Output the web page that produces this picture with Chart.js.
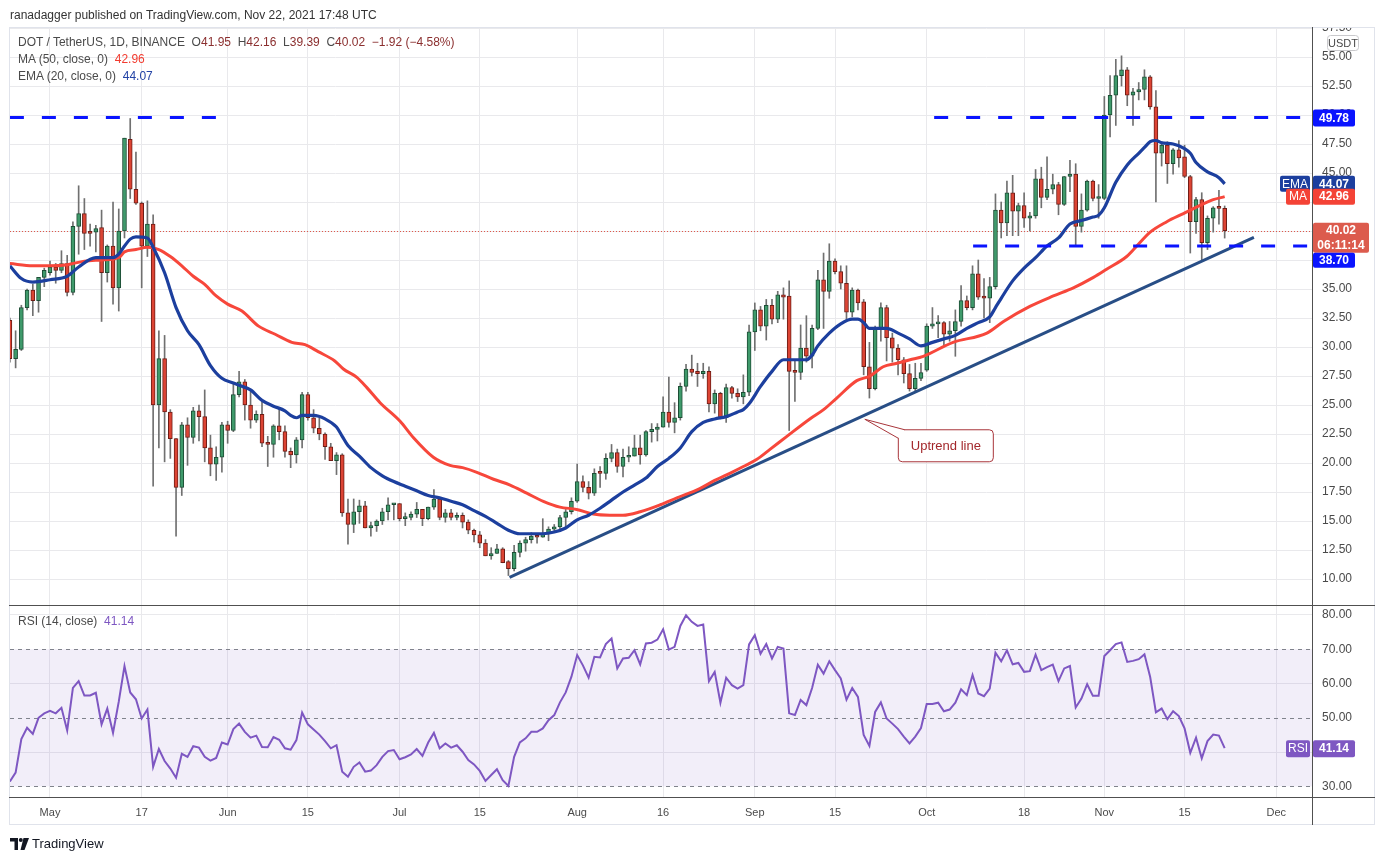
<!DOCTYPE html>
<html>
<head>
<meta charset="utf-8">
<script src="https://cdn.jsdelivr.net/npm/chart.js@4.4.0/dist/chart.umd.min.js"></script>
<style>
  body { margin: 0; background: #fff; font-family: 'Liberation Sans', Arial, sans-serif; }
  #wrap { position: relative; width: 1384px; height: 860px; overflow: hidden; background: #fff; }
  canvas { position: absolute; left: 0; }
  #price { top: 0; }
  #rsi { top: 605px; }
  .t { position: absolute; white-space: nowrap; font-size: 12px; color: #4a4a4a; line-height: 14px; }
  .ln { position: absolute; background: #505050; }
  .dn { color: #8b2f2f; }
</style>
</head>
<body>
<div id="wrap">
  <canvas id="price" width="1384" height="605"></canvas>
  <canvas id="rsi" width="1384" height="255"></canvas>

  <div style="position:absolute;left:1313px;top:0;width:71px;height:27px;background:#fff"></div>
  <div style="position:absolute;left:9px;top:27px;width:1366px;height:798px;border:1px solid #e0e3eb;box-sizing:border-box"></div>
  <div class="ln" style="left:1312px;top:27px;width:1px;height:798px"></div>
  <div class="ln" style="left:9px;top:605px;width:1366px;height:1px"></div>
  <div class="ln" style="left:9px;top:797px;width:1366px;height:1px"></div>

  <div class="t" style="left:10px;top:8px;color:#333">ranadagger published on TradingView.com, Nov 22, 2021 17:48 UTC</div>
  <div class="t" style="left:18px;top:35px">DOT / TetherUS, 1D, BINANCE&nbsp;&nbsp;O<span class="dn">41.95</span>&nbsp;&nbsp;H<span class="dn">42.16</span>&nbsp;&nbsp;L<span class="dn">39.39</span>&nbsp;&nbsp;C<span class="dn">40.02</span>&nbsp;&nbsp;<span class="dn">&minus;1.92 (&minus;4.58%)</span></div>
  <div class="t" style="left:18px;top:52px">MA (50, close, 0)&nbsp;&nbsp;<span style="color:#f23b2f">42.96</span></div>
  <div class="t" style="left:18px;top:69px">EMA (20, close, 0)&nbsp;&nbsp;<span style="color:#2343a6">44.07</span></div>
  <div class="t" style="left:18px;top:614px">RSI (14, close)&nbsp;&nbsp;<span style="color:#7e57c2">41.14</span></div>

  <div style="position:absolute;left:10px;top:836px;display:flex;align-items:center;gap:3px">
    <svg width="19" height="12" viewBox="0 0 19 12"><path d="M0 0h8v12H4.5V3.5H0z" fill="#131722"/><circle cx="10.8" cy="2" r="2" fill="#131722"/><path d="M13.5 0h5.5l-4.5 12h-4z" fill="#131722"/></svg>
    <span style="font-size:13px;color:#131722">TradingView</span>
  </div>
</div>

<script>
// day 0 = May 1, 2021; first candle is Apr 24 (day -7), last is Nov 22 (day 205)
const firstDay = -7;

const openPx = [
  32.3, 29.0, 29.8, 33.4, 34.9, 34.0, 36.0, 36.4, 36.9, 36.6,
  37.2, 34.7, 40.4, 41.5, 39.9, 39.9, 40.3, 36.4, 38.7, 35.1,
  40.0, 47.9, 43.6, 42.4, 38.7, 40.6, 25.0, 29.0, 24.4, 22.1,
  17.9, 23.3, 22.2, 24.5, 24.0, 21.3, 19.9, 20.5, 23.3, 22.8,
  25.9, 27.0, 25.0, 23.7, 24.2, 21.7, 21.6, 23.2, 22.7, 21.0,
  20.7, 22.0, 25.9, 23.9, 23.0, 22.5, 21.4, 20.2, 20.7, 15.7,
  14.7, 15.8, 16.3, 14.4, 14.6, 15.0, 15.8, 16.4, 16.5, 15.2,
  15.3, 15.6, 16.0, 15.2, 16.2, 16.9, 15.3, 15.7, 15.3, 15.5,
  14.9, 14.2, 13.8, 13.1, 12.0, 12.2, 12.6, 11.5, 10.9, 12.3,
  13.1, 13.4, 13.7, 13.6, 13.9, 14.3, 14.5, 15.3, 15.8, 16.7,
  18.4, 17.9, 17.4, 19.15, 19.1, 20.4, 20.9, 19.7, 20.5, 20.6,
  21.3, 20.7, 22.7, 22.9, 23.1, 24.4, 23.5, 23.9, 26.6, 28.1,
  27.9, 27.7, 27.9, 25.1, 26.0, 23.9, 26.5, 26.0, 25.7, 26.1,
  31.3, 33.2, 31.8, 33.6, 32.4, 34.5, 34.4, 28.0, 27.8, 29.9,
  29.2, 31.6, 35.8, 34.8, 37.4, 36.5, 35.5, 33.0, 34.9, 33.9,
  28.3, 26.4, 31.6, 33.4, 30.8, 29.9, 28.9, 27.7, 26.4, 27.3,
  28.0, 31.8, 32.0, 32.1, 31.1, 31.4, 32.2, 34.0, 33.4, 36.3,
  34.4, 34.2, 35.2, 41.8, 40.7, 43.3, 41.7, 42.2, 41.1, 41.3,
  44.5, 42.9, 43.6, 44.0, 42.3, 44.7, 44.9, 40.4, 41.8, 44.3,
  42.8, 42.8, 50.0, 51.7, 53.4, 53.9, 51.7, 52.0, 52.2, 53.3,
  50.7, 46.7, 47.4, 45.8, 47.0, 46.4, 44.7, 40.8, 42.7, 39.0,
  41.1, 42.0, 41.95
];
const highPx = [
  32.5, 31.4, 33.6, 35.0, 35.4, 36.0, 36.8, 37.4, 37.2, 38.3,
  37.9, 40.8, 43.9, 42.8, 40.6, 40.5, 41.8, 38.8, 42.5, 41.9,
  48.0, 49.7, 46.8, 42.5, 42.6, 41.4, 31.4, 31.0, 24.6, 22.1,
  23.5, 23.9, 24.8, 25.0, 26.3, 22.4, 21.4, 23.5, 23.6, 26.8,
  27.9, 27.2, 26.3, 24.5, 25.3, 22.3, 23.3, 24.7, 23.2, 21.3,
  22.2, 26.1, 26.1, 24.6, 23.9, 22.6, 21.7, 20.9, 20.8, 16.9,
  16.9, 16.8, 16.7, 14.9, 15.1, 16.1, 17.0, 16.5, 16.5, 15.7,
  15.8, 16.6, 16.0, 16.2, 17.7, 16.9, 16.0, 16.0, 15.7, 15.7,
  15.1, 14.3, 14.1, 13.4, 12.7, 13.0, 12.7, 11.6, 12.9, 13.3,
  13.6, 14.0, 13.9, 15.2, 14.5, 14.7, 15.5, 16.0, 17.0, 19.9,
  18.9, 18.4, 19.5, 19.7, 20.8, 21.6, 21.2, 21.2, 21.4, 22.4,
  22.4, 22.8, 23.4, 23.4, 25.7, 27.4, 25.2, 26.9, 28.5, 29.3,
  28.6, 28.6, 28.3, 26.3, 26.1, 26.8, 26.6, 26.4, 27.6, 31.9,
  33.8, 33.5, 34.1, 34.1, 34.8, 35.1, 35.7, 28.9, 31.9, 32.7,
  31.9, 36.6, 38.1, 38.9, 37.6, 37.0, 37.0, 35.1, 35.0, 34.1,
  30.4, 31.8, 33.8, 33.6, 31.2, 30.2, 29.1, 28.5, 28.6, 28.6,
  32.0, 33.4, 32.7, 32.2, 32.2, 33.2, 35.3, 34.4, 37.0, 37.5,
  35.9, 36.0, 43.2, 42.5, 44.3, 44.8, 42.4, 43.3, 41.6, 45.3,
  45.5, 46.4, 44.9, 44.2, 44.7, 46.1, 45.8, 43.2, 44.4, 44.4,
  44.0, 51.6, 53.4, 54.8, 55.1, 54.1, 52.3, 52.8, 53.9, 53.4,
  52.1, 47.7, 47.7, 47.1, 47.8, 47.4, 44.8, 42.9, 43.3, 41.3,
  42.1, 43.5, 42.16
];
const lowPx = [
  28.7, 28.2, 29.7, 33.2, 32.7, 33.0, 35.2, 36.2, 35.5, 36.4,
  34.4, 34.5, 38.0, 38.4, 38.7, 38.2, 32.2, 35.6, 33.7, 33.1,
  39.4, 42.8, 42.3, 35.1, 37.8, 18.0, 21.3, 20.1, 20.4, 13.7,
  17.2, 19.8, 21.7, 21.9, 20.1, 18.9, 18.5, 19.2, 21.7, 22.7,
  25.7, 23.7, 23.0, 23.5, 21.4, 19.7, 20.5, 22.0, 20.5, 19.6,
  20.0, 21.3, 23.7, 22.6, 22.0, 20.3, 20.2, 19.0, 15.4, 13.0,
  14.0, 14.8, 14.4, 13.7, 14.1, 14.7, 15.1, 15.1, 15.0, 14.6,
  15.1, 15.3, 14.6, 15.1, 16.0, 15.1, 14.9, 15.1, 15.1, 14.4,
  13.9, 13.2, 12.7, 12.0, 11.7, 12.2, 11.4, 10.3, 10.7, 11.9,
  12.4, 13.1, 13.1, 13.6, 13.3, 14.0, 14.3, 14.4, 15.6, 16.6,
  17.5, 16.9, 17.2, 17.9, 18.6, 20.1, 19.2, 18.8, 20.1, 20.6,
  19.9, 20.6, 21.8, 21.9, 23.1, 23.1, 22.6, 23.7, 26.2, 27.5,
  26.6, 27.3, 24.4, 24.3, 23.8, 23.5, 25.6, 25.3, 25.1, 25.8,
  29.7, 31.4, 30.6, 32.0, 32.1, 32.4, 22.8, 25.3, 27.2, 28.7,
  28.2, 31.5, 31.6, 34.2, 36.3, 35.0, 32.2, 32.6, 33.2, 27.6,
  25.6, 26.3, 30.5, 28.8, 28.7, 27.6, 26.9, 26.2, 26.2, 27.1,
  27.9, 31.6, 30.8, 30.1, 30.5, 29.2, 31.8, 33.2, 33.2, 34.1,
  32.5, 32.1, 35.0, 39.4, 39.6, 39.6, 39.6, 40.3, 40.0, 41.1,
  42.0, 42.7, 43.2, 41.4, 42.2, 43.4, 38.8, 39.9, 41.7, 42.6,
  41.1, 42.7, 48.1, 49.1, 52.5, 50.8, 49.1, 51.3, 51.3, 50.5,
  42.5, 45.6, 44.1, 44.9, 45.5, 44.6, 38.1, 39.8, 37.5, 38.4,
  39.9, 40.6, 39.39
];
const closePx = [
  29.0, 29.8, 33.4, 34.9, 34.0, 36.0, 36.6, 36.9, 36.6, 37.2,
  34.7, 40.4, 41.5, 39.8, 39.8, 40.2, 36.4, 38.7, 35.1, 40.0,
  48.0, 43.6, 42.4, 38.7, 40.6, 25.0, 29.0, 24.4, 22.1, 17.9,
  23.3, 22.2, 24.5, 24.0, 21.3, 19.9, 20.5, 23.3, 22.8, 25.9,
  27.0, 25.0, 23.7, 24.2, 21.7, 21.6, 23.2, 22.7, 21.0, 20.7,
  22.0, 25.9, 23.9, 23.0, 22.5, 21.4, 20.2, 20.7, 15.7, 14.7,
  15.8, 16.3, 14.4, 14.6, 15.0, 15.8, 16.4, 16.5, 15.2, 15.3,
  15.6, 16.0, 15.2, 16.2, 16.9, 15.3, 15.7, 15.3, 15.5, 14.9,
  14.2, 13.8, 13.1, 12.0, 12.2, 12.6, 11.4, 10.9, 12.3, 13.1,
  13.4, 13.7, 13.6, 13.9, 14.3, 14.5, 15.3, 15.8, 16.7, 18.4,
  17.9, 17.4, 19.1, 19.1, 20.4, 20.9, 19.7, 20.5, 20.6, 21.3,
  20.7, 22.7, 22.9, 23.1, 24.4, 23.5, 23.9, 26.6, 28.1, 27.8,
  27.7, 27.9, 25.1, 26.0, 23.9, 26.5, 26.0, 25.7, 26.1, 31.3,
  33.2, 31.8, 33.6, 32.4, 34.5, 34.3, 27.9, 27.8, 29.9, 29.2,
  31.6, 35.8, 34.8, 37.4, 36.5, 35.5, 33.0, 34.9, 33.8, 28.3,
  26.4, 31.6, 33.4, 30.8, 29.9, 28.9, 27.7, 26.4, 27.3, 27.8,
  31.8, 32.0, 32.1, 31.1, 31.4, 32.2, 34.0, 33.4, 36.3, 34.3,
  34.2, 35.2, 41.8, 40.7, 43.3, 41.7, 42.2, 41.1, 41.3, 44.5,
  42.9, 43.6, 44.0, 42.3, 44.7, 44.9, 40.4, 41.8, 44.3, 42.8,
  42.9, 50.0, 51.7, 53.4, 53.9, 51.7, 52.0, 52.2, 53.3, 50.7,
  46.7, 47.4, 45.8, 47.0, 46.3, 44.7, 40.8, 42.7, 39.0, 41.1,
  42.0, 41.95, 40.02
];

// [day, value]
const emaPts = [
  [-7,37.0],[-5,35.9],[-3,35.6],[0,35.8],[3,36.1],[5,36.9],[8,37.7],[11,37.7],[12,38.0],[13,38.7],
  [14,39.3],[15,39.5],[17,39.4],[18,38.6],[20,36.4],[22,33.4],[24,31.4],[26,30.2],[28,28.4],[30,27.3],
  [32,26.9],[33,26.7],[35,26.3],[37,25.4],[39,24.9],[41,24.5],[42,24.1],[43,23.9],[44,24.1],[46,24.1],
  [48,23.8],[50,23.1],[51,22.3],[52,21.5],[54,20.6],[56,19.6],[58,18.9],[60,18.4],[62,18.0],[64,17.6],
  [66,17.2],[68,17.0],[70,16.7],[72,16.4],[74,15.9],[76,15.4],[78,14.8],[80,14.2],[82,13.9],[84,13.9],
  [86,13.9],[88,14.05],[90,14.4],[92,15.1],[94,15.5],[96,16.1],[98,16.8],[100,17.5],[102,18.1],[104,18.7],
  [106,19.7],[108,20.4],[110,21.3],[112,22.7],[114,23.5],[116,23.8],[118,24.0],[120,24.4],[121,24.6],[122,25.1],
  [124,26.6],[126,27.9],[128,28.9],[130,28.9],[132,28.9],[133,29.3],[134,30.1],[136,31.2],[138,32.0],[140,32.4],
  [141,32.4],[142,32.1],[143,31.6],[146,31.6],[148,31.2],[150,30.7],[152,30.1],[154,30.4],[156,30.7],[158,31.0],
  [160,31.6],[162,32.1],[164,32.6],[165,33.4],[166,34.2],[168,35.7],[170,36.8],[172,37.7],[174,38.7],[176,39.4],
  [178,40.6],[180,40.9],[182,41.2],[183,41.35],[184,42.0],[186,44.2],[188,45.7],[190,46.7],[191,47.2],[192,47.7],
  [193,47.8],[194,47.6],[196,47.5],[198,47.1],[199,46.7],[200,45.9],[202,45.1],[204,44.6],[205,44.07]
];
const maPts = [
  [-7,37.2],[-3,37.0],[0,37.0],[3,37.1],[6,37.4],[9,37.5],[12,37.7],[13,38.2],[15,38.4],[17,38.6],
  [19,38.4],[21,37.8],[23,37.0],[25,36.1],[27,35.4],[29,34.4],[31,33.7],[33.5,33.1],[36.4,31.8],[39.3,31.1],
  [42.2,30.4],[44.5,30.2],[46.8,29.6],[49.7,28.8],[51.2,28.1],[53.5,27.4],[55.3,26.5],[57.6,25.2],[61.1,23.6],[63.4,22.2],
  [66.9,20.5],[69.8,19.8],[72,19.6],[74.5,19.2],[77.4,18.6],[80.3,18.1],[83.2,17.4],[86.1,16.7],[89,16.2],[91.9,16.0],
  [94.8,15.6],[97.7,15.5],[100,15.5],[103,15.8],[106.5,16.4],[109.4,17.0],[113.4,17.8],[116,18.5],[119,19.2],[121,19.7],
  [123.3,20.3],[125.7,21.2],[128.6,22.3],[132.6,23.8],[135,24.6],[137.3,25.6],[140.8,27.1],[143.1,27.5],[145.4,28.3],[147.8,28.6],
  [150.1,28.9],[152.4,29.2],[157.6,30.4],[163.5,31.2],[166.4,32.2],[171,33.5],[175.1,34.4],[178.6,35.1],[182.1,36.0],[184.4,36.7],
  [187.9,37.8],[189.1,38.4],[192,39.9],[194.9,40.8],[197.8,41.5],[200.7,42.2],[203,42.7],[205,42.96]
];

const rsiVals = [
  31.4, 34.0, 43.8, 47.1, 45.3, 50.0, 51.3, 52.0, 51.3, 52.9,
  46.3, 58.7, 60.7, 56.5, 56.5, 57.3, 48.1, 52.7, 45.6, 54.7,
  65.1, 57.4, 55.4, 49.8, 52.4, 35.7, 40.9, 37.4, 35.2, 32.5,
  39.5, 38.6, 41.7, 41.3, 38.6, 37.5, 38.3, 42.8, 42.2, 46.7,
  48.3, 45.9, 44.2, 44.8, 41.5, 41.4, 44.4, 43.6, 41.1, 40.7,
  43.5, 51.5, 48.1, 46.6, 45.1, 43.2, 41.1, 42.0, 34.3, 32.8,
  35.7, 37.0, 34.3, 34.6, 36.2, 38.6, 40.3, 40.6, 37.9, 38.5,
  39.3, 40.9, 38.9, 42.8, 45.6, 41.1, 42.5, 41.3, 42.0, 40.1,
  37.7, 36.4, 34.5, 31.6, 33.3, 35.0, 31.8, 30.1, 38.6, 42.8,
  44.0, 45.9, 45.9, 46.9, 49.3, 50.8, 54.5, 57.4, 62.0, 68.3,
  65.3, 61.7, 67.8, 67.6, 71.5, 73.1, 64.4, 67.3, 67.5, 69.7,
  65.6, 71.7, 71.9, 72.8, 75.8, 69.9, 70.7, 76.8, 79.9, 78.0,
  76.8, 77.2, 60.7, 63.4, 54.4, 61.7, 59.5, 58.5, 59.5, 71.4,
  74.1, 68.7, 71.5, 67.3, 70.7, 70.2, 51.3, 50.8, 55.2, 53.7,
  58.7, 65.5, 62.9, 66.5, 63.9, 61.5, 55.3, 58.7, 56.1, 45.0,
  41.8, 51.7, 54.5, 49.8, 48.3, 46.7, 44.5, 42.5, 44.5, 47.0,
  54.0, 54.0, 54.4, 51.9, 52.4, 54.4, 58.3, 56.6, 62.5, 57.1,
  56.3, 58.5, 69.0, 66.5, 69.7, 65.6, 66.0, 63.4, 63.6, 68.4,
  63.9, 64.8, 65.5, 60.7, 64.4, 65.1, 53.0, 55.6, 59.8, 56.4,
  56.4, 68.0, 69.7, 71.5, 72.0, 66.3, 66.6, 67.1, 68.5, 61.9,
  51.6, 52.7, 49.6, 51.9, 50.5, 46.9, 39.8, 44.2, 38.2, 43.2,
  45.1, 44.8, 41.14
];

// drawn lines: horizontal levels and the uptrend line (day, price)
const levelPrice = [49.78, 49.78, 38.70];
const levelFrom = [-7, 154.3, 161.1];
const levelTo = [30.2, 221, 221];
const trendDays = [80.2, 210.1];
const trendVals = [10.15, 39.46];
const calloutAt = [142.2, 23.77];

const tickDays = [0, 16, 31, 45, 61, 75, 92, 107, 123, 137, 153, 170, 184, 198, 214];
const tickLabels = ['May', '17', 'Jun', '15', 'Jul', '15', 'Aug', '16', 'Sep', '15', 'Oct', '18', 'Nov', '15', 'Dec'];
const priceTicks = [10, 12.5, 15, 17.5, 20, 22.5, 25, 27.5, 30, 32.5, 35, 37.5, 40, 42.5, 45, 47.5, 50, 52.5, 55, 57.5];
const rsiTicks = [30, 40, 50, 60, 70, 80];

const FONT = "'Liberation Sans', Arial, sans-serif";
Chart.defaults.font.family = FONT;
Chart.defaults.color = '#4a4a4a';

const xMin = -6.98, xMax = 220.24;
const gridColor = '#e9e9ec';
const days = openPx.map((_, i) => firstDay + i);
const isUp = openPx.map((o, i) => closePx[i] >= o);

function tag(ctx, x, y, w, h, fill, lines, font) {
  ctx.save();
  ctx.fillStyle = fill;
  ctx.beginPath();
  ctx.roundRect(x, y, w, h, 2);
  ctx.fill();
  ctx.fillStyle = '#fff';
  ctx.font = font || 'bold 12px ' + FONT;
  ctx.textAlign = 'center';
  ctx.textBaseline = 'middle';
  lines.forEach((t, k) => ctx.fillText(t, x + w / 2, y + (h / lines.length) * (k + 0.5) + 0.5));
  ctx.restore();
}

const xAxisBase = {
  type: 'linear', min: xMin, max: xMax, offset: false,
  grid: { color: gridColor, drawTicks: false, offset: false },
  border: { display: false },
  afterBuildTicks: s => { s.ticks = tickDays.map(v => ({ value: v })); }
};

const priceDecor = {
  id: 'priceDecor',
  beforeDatasetsDraw(chart) {
    const { ctx, chartArea, scales: { y } } = chart;
    const yp = y.getPixelForValue(closePx[closePx.length - 1]);
    ctx.save();
    ctx.strokeStyle = '#e0584a';
    ctx.lineWidth = 1;
    ctx.setLineDash([1, 2]);
    ctx.beginPath();
    ctx.moveTo(chartArea.left, Math.round(yp) + 0.5);
    ctx.lineTo(chartArea.right, Math.round(yp) + 0.5);
    ctx.stroke();
    ctx.restore();
  },
  afterDraw(chart) {
    const { ctx, scales: { x, y } } = chart;
    const L = y.left + 1;

    // "Uptrend line" callout
    const tx = x.getPixelForValue(calloutAt[0]), ty = y.getPixelForValue(calloutAt[1]);
    const bx = tx + 33, by = ty + 10, bw = 95, bh = 32;
    ctx.save();
    ctx.strokeStyle = '#a8353a';
    ctx.fillStyle = '#fff';
    ctx.lineWidth = 1;
    ctx.beginPath();
    ctx.roundRect(bx + 0.5, by + 0.5, bw, bh, 4);
    ctx.fill();
    ctx.stroke();
    ctx.beginPath();
    ctx.moveTo(bx + 7, by + 0.5);
    ctx.lineTo(tx, ty);
    ctx.lineTo(bx + 0.5, by + 9);
    ctx.closePath();
    ctx.fill();
    ctx.beginPath();
    ctx.moveTo(bx + 7, by + 0.5);
    ctx.lineTo(tx, ty);
    ctx.lineTo(bx + 0.5, by + 9);
    ctx.stroke();
    ctx.fillStyle = '#a3282c';
    ctx.font = '13px ' + FONT;
    ctx.textAlign = 'center';
    ctx.textBaseline = 'middle';
    ctx.fillText('Uptrend line', bx + bw / 2 + 0.5, by + bh / 2 + 1);
    ctx.restore();

    // currency badge
    ctx.save();
    ctx.strokeStyle = '#c9c9cc';
    ctx.beginPath();
    ctx.roundRect(1327.5, 35.5, 31, 15, 3);
    ctx.stroke();
    ctx.fillStyle = '#4a4a4a';
    ctx.font = '11px ' + FONT;
    ctx.textAlign = 'center';
    ctx.textBaseline = 'middle';
    ctx.fillText('USDT', 1343, 43.5);
    ctx.restore();

    // price-scale tags
    const yRes = y.getPixelForValue(levelPrice[0]);
    tag(ctx, L, yRes - 8, 42, 17, '#0a14ff', [levelPrice[0].toFixed(2)]);
    const ema = emaPts[emaPts.length - 1][1];
    const ma = maPts[maPts.length - 1][1];
    const yE = y.getPixelForValue(ema);
    const yM = y.getPixelForValue(ma);
    tag(ctx, L - 33, yE - 8, 30, 16, '#1c3f9e', ['EMA'], '12px ' + FONT);
    tag(ctx, L, yE - 8, 42, 16, '#1c3f9e', [ema.toFixed(2)]);
    tag(ctx, L - 27, yM - 8, 24, 16, '#f44336', ['MA'], '12px ' + FONT);
    tag(ctx, L, yM - 8, 42, 16, '#f44336', [ma.toFixed(2)]);
    const last = closePx[closePx.length - 1];
    const yL = y.getPixelForValue(last);
    tag(ctx, L, yL - 8, 56, 30, '#dc5b4d', [last.toFixed(2), '06:11:14']);
    tag(ctx, L, yL + 22, 42, 15, '#0a14ff', [levelPrice[2].toFixed(2)]);
  }
};

new Chart(document.getElementById('price'), {
  type: 'bar',
  data: {
    datasets: [
      ...levelPrice.map((p, i) => ({
        type: 'line', data: [{ x: levelFrom[i], y: p }, { x: levelTo[i], y: p }],
        borderColor: '#0a14ff', borderWidth: 3, borderDash: [14, 18], pointRadius: 0, order: -1
      })),
      {
        type: 'line', data: emaPts.map(p => ({ x: p[0], y: p[1] })),
        borderColor: '#1c3f9e', borderWidth: 3.2, pointRadius: 0, cubicInterpolationMode: 'monotone', order: 0
      },
      {
        type: 'line', data: maPts.map(p => ({ x: p[0], y: p[1] })),
        borderColor: '#f7473b', borderWidth: 3, pointRadius: 0, cubicInterpolationMode: 'monotone', order: 1
      },
      {
        type: 'line', data: trendDays.map((d, i) => ({ x: d, y: trendVals[i] })),
        borderColor: '#284e86', borderWidth: 3, pointRadius: 0, order: 2
      },
      {
        data: days.map((d, i) => ({ x: d, y: [openPx[i], closePx[i]] })),
        backgroundColor: isUp.map(u => u ? '#3f9a6b' : '#dc4434'),
        borderColor: isUp.map(u => u ? '#1d4d35' : '#6e1d16'),
        borderWidth: 1, borderSkipped: false, barThickness: 4, minBarLength: 2, grouped: false, order: 3
      },
      {
        data: days.map((d, i) => ({ x: d, y: [lowPx[i], highPx[i]] })),
        backgroundColor: '#707070', borderWidth: 0, barThickness: 1, grouped: false, order: 4
      }
    ]
  },
  options: {
    responsive: false, animation: false, events: [],
    layout: { padding: { left: 10, top: 28, right: 0, bottom: 0 } },
    plugins: { legend: { display: false }, tooltip: { enabled: false } },
    scales: {
      x: {
        ...xAxisBase,
        ticks: { display: false },
        afterFit: s => { s.height = 0; s.paddingLeft = 0; s.paddingRight = 0; }
      },
      y: {
        position: 'right', min: 7.76, max: 57.5,
        grid: { color: gridColor, drawTicks: false },
        border: { display: false },
        ticks: {
          padding: 10, color: '#4a4a4a', font: { size: 12 },
          callback: v => [37.5, 40, 42.5].includes(v) ? '' : v.toFixed(2)
        },
        afterBuildTicks: s => { s.ticks = priceTicks.map(v => ({ value: v })); },
        afterFit: s => { s.width = 72; s.paddingTop = 0; s.paddingBottom = 0; }
      }
    }
  },
  plugins: [priceDecor]
});

const rsiDecor = {
  id: 'rsiDecor',
  beforeDatasetsDraw(chart) {
    const { ctx, chartArea, scales: { y } } = chart;
    const y70 = y.getPixelForValue(70), y30 = y.getPixelForValue(30);
    ctx.save();
    ctx.fillStyle = 'rgba(126, 87, 194, 0.1)';
    ctx.fillRect(chartArea.left, y70, chartArea.right - chartArea.left, y30 - y70);
    ctx.strokeStyle = '#80838c';
    ctx.lineWidth = 1;
    ctx.setLineDash([4, 4]);
    [30, 50, 70].forEach(v => {
      const yy = Math.round(y.getPixelForValue(v)) + 0.5;
      ctx.beginPath();
      ctx.moveTo(chartArea.left, yy);
      ctx.lineTo(chartArea.right, yy);
      ctx.stroke();
    });
    ctx.restore();
  },
  afterDraw(chart) {
    const { ctx, scales: { y } } = chart;
    const last = rsiVals[rsiVals.length - 1];
    const yr = y.getPixelForValue(last);
    tag(chart.ctx, y.left + 1, yr - 8, 42, 17, '#7e57c2', [last.toFixed(2)]);
    tag(chart.ctx, y.left - 26, yr - 8, 24, 17, '#7e57c2', ['RSI'], '12px ' + FONT);
  }
};

new Chart(document.getElementById('rsi'), {
  type: 'line',
  data: {
    datasets: [{
      data: rsiVals.map((v, i) => ({ x: firstDay + i, y: v })),
      borderColor: '#7e57c2', borderWidth: 2, pointRadius: 0, tension: 0
    }]
  },
  options: {
    responsive: false, animation: false, events: [],
    layout: { padding: { left: 10, top: 0, right: 0, bottom: 0 } },
    plugins: { legend: { display: false }, tooltip: { enabled: false } },
    scales: {
      x: {
        ...xAxisBase,
        ticks: {
          padding: 9, color: '#4a4a4a', font: { size: 11 }, autoSkip: false, maxRotation: 0,
          callback: v => tickLabels[tickDays.indexOf(v)] || ''
        },
        afterFit: s => { s.height = 63; s.paddingLeft = 0; s.paddingRight = 0; }
      },
      y: {
        position: 'right', min: 26.9, max: 82.9,
        grid: {
          drawTicks: false,
          color: c => [30, 50, 70].includes(c.tick && c.tick.value) ? 'rgba(0,0,0,0)' : gridColor
        },
        border: { display: false },
        ticks: {
          padding: 10, color: '#4a4a4a', font: { size: 12 },
          callback: v => v === 40 ? '' : v.toFixed(2)
        },
        afterBuildTicks: s => { s.ticks = rsiTicks.map(v => ({ value: v })); },
        afterFit: s => { s.width = 72; s.paddingTop = 0; s.paddingBottom = 0; }
      }
    }
  },
  plugins: [rsiDecor]
});
</script>
</body>
</html>
